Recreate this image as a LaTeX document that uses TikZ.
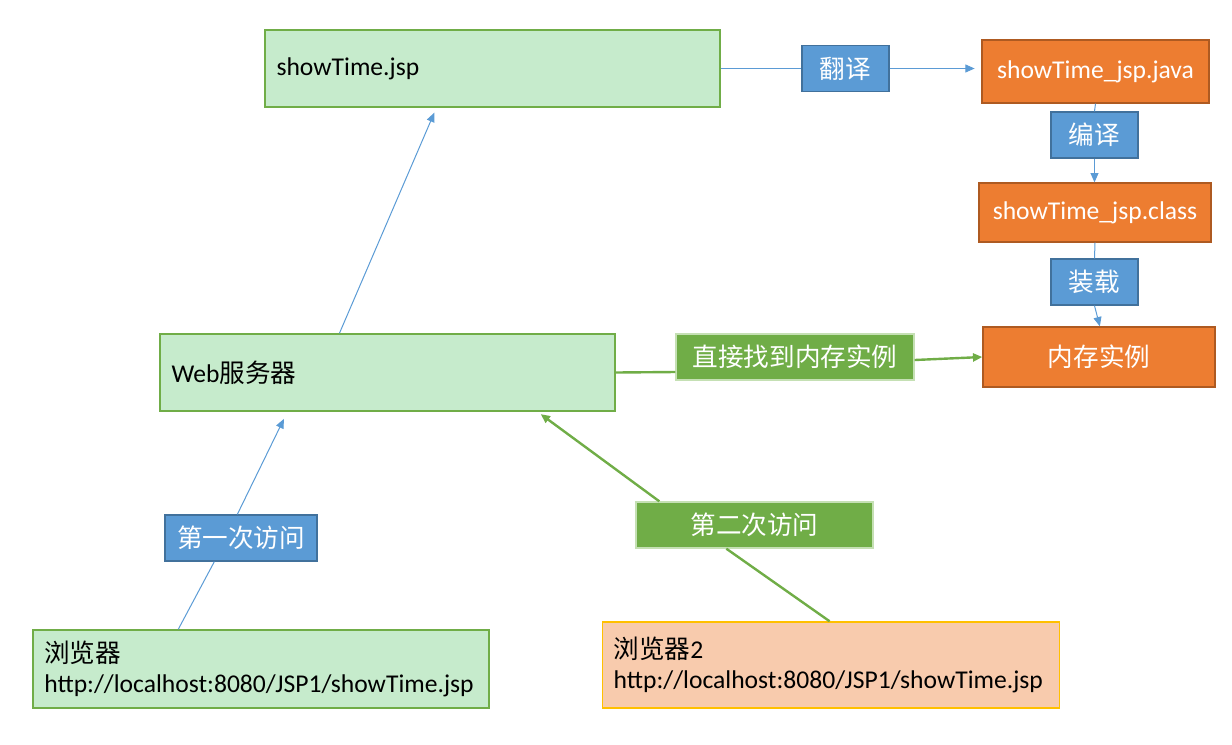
\documentclass[tikz,border=0pt]{standalone}
\usepackage{fontspec}
\usepackage{tikz}
\usetikzlibrary{arrows.meta}
\setmainfont{Carlito}
\newfontfamily\cjk{Noto Sans CJK SC}
\definecolor{lgreen}{HTML}{C6EBCC}
\definecolor{dgreen}{HTML}{70AD47}
\definecolor{pgreen}{HTML}{C5E0B4}
\definecolor{mblue}{HTML}{5B9BD5}
\definecolor{eblue}{HTML}{41719C}
\definecolor{orng}{HTML}{ED7D31}
\definecolor{eorng}{HTML}{AE5A21}
\definecolor{peach}{HTML}{F8CBAD}
\definecolor{gold}{HTML}{FFC000}

\begin{document}
\begin{tikzpicture}
            [x=0.75pt,y=-0.75pt,every node/.style={inner sep=0pt,font=\fontsize{19.2}{22.5}\selectfont},
             greenbox/.style={draw=dgreen,fill=lgreen,line width=1.1pt,align=left,inner xsep=8.5pt},
             bluetag/.style={draw=eblue,fill=mblue,text=white,line width=1pt,minimum width=65.25pt,minimum height=34.5pt},
             greentag/.style={draw=pgreen,fill=dgreen,text=white,line width=1pt,minimum height=34.5pt},
             orangebox/.style={draw=eorng,fill=orng,text=white,line width=1pt,minimum width=174pt},
             peachbox/.style={draw=gold,fill=peach,line width=1.1pt,align=left,inner xsep=8.5pt},
             blueline/.style={draw=mblue,line width=0.75pt},
             greenline/.style={draw=dgreen,line width=1.8pt},
             tip/.style={-{Triangle[length=7pt,width=6pt]}}]
            \useasboundingbox (0,0) rectangle (1232,744);
            \node[greenbox,text width=324pt,minimum height=57.75pt] (jsp) at (492.5,68.5) {showTime.jsp};
            \node[bluetag] (fy) at (845.5,68.5) {\cjk 翻译};
            \node[orangebox,minimum width=170.25pt,minimum height=47.25pt] (java) at (1095.5,71.5) {showTime\_jsp.java};
            \node[bluetag] (by) at (1094.5,135) {\cjk 编译};
            \node[orangebox,minimum height=44.25pt] (cls) at (1095,212.5) {showTime\_jsp.class};
            \node[bluetag] (zz) at (1094.5,282) {\cjk 装载};
            \node[orangebox,minimum height=45pt] (inst) at (1099,357) {\cjk 内存实例};
            \node[greenbox,text width=324pt,minimum height=57.75pt] (web) at (387.5,372.5) {Web{\cjk 服务器}};
            \node[greentag,minimum width=178.5pt] (direct) at (795,357) {\cjk 直接找到内存实例};
            \node[bluetag,minimum width=114pt] (v1) at (241,538) {\cjk 第一次访问};
            \node[greentag,minimum width=177.75pt] (v2) at (754.5,525) {\cjk 第二次访问};
            \node[greenbox,text width=325pt,minimum height=58.5pt] (b1) at (261,669) {{\cjk 浏览器}\\http://localhost:8080/JSP1/showTime.jsp};
            \node[peachbox,text width=326pt,minimum height=64.5pt] (b2) at (831,665) {{\cjk 浏览器}2\\http://localhost:8080/JSP1/showTime.jsp};
            % translate, compile, load
            \draw[blueline] (jsp.east) -- (fy.west);
            \draw[blueline,tip,shorten >=5pt] (fy.east) -- (fy.east -| java.west);
            \draw[blueline] (java.south) -- (by.north);
            \draw[blueline,tip] (by.south) -- (by.south |- cls.north);
            \draw[blueline] (cls.south) -- (zz.north);
            \draw[blueline,tip] (zz.south) -- ([xshift=4pt]zz.south |- inst.north);
            % first visit
            \draw[blueline] ([xshift=109.5pt]b1.north west) -- ([xshift=37.5pt]v1.south west);
            \draw[blueline,tip,shorten >=6pt] ([xshift=54.75pt]v1.north west) -- ([xshift=96pt]web.south west);
            \draw[blueline,tip,shorten >=4pt] ([xshift=135pt]web.north west) -- ([xshift=129pt]jsp.south west);
            % second visit
            \draw[greenline] ([xshift=171pt]b2.north west) -- ([xshift=68.25pt]v2.south west);
            \draw[greenline,tip,shorten >=3pt] ([xshift=18pt]v2.north west) -- ([xshift=283.5pt]web.south west);
            \draw[greenline] (web.east) -- ([yshift=-11.25pt]direct.west);
            \draw[greenline,tip] ([yshift=-2.25pt]direct.east) -- (inst.west);
        \end{tikzpicture}
\end{document}
